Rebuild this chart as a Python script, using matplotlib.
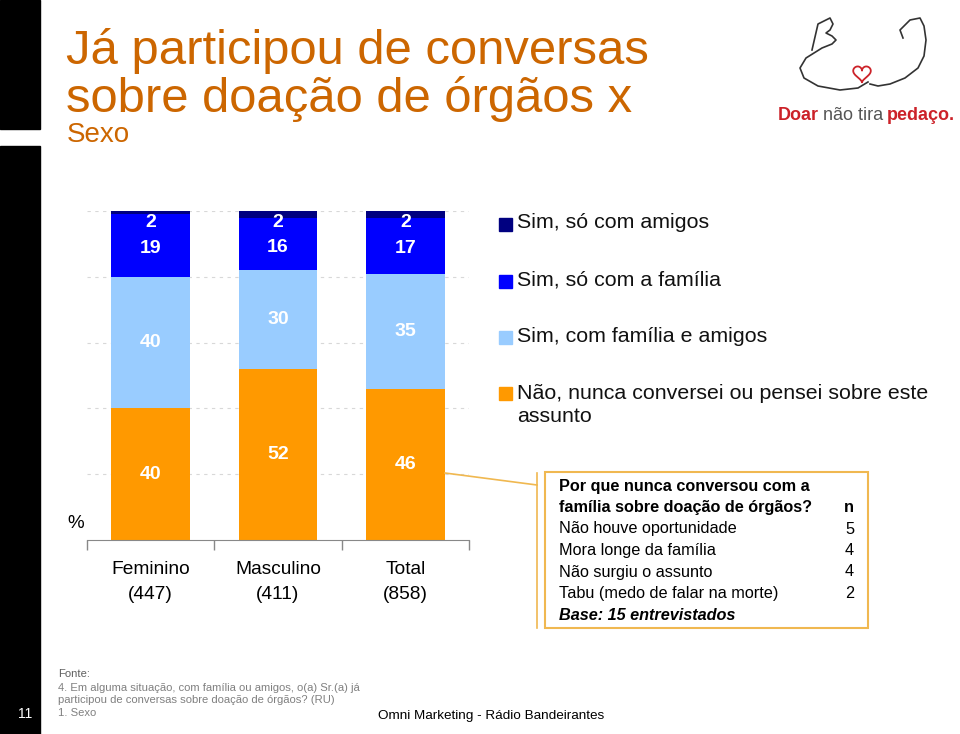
import numpy as np
import matplotlib.pyplot as plt
from matplotlib.patches import Rectangle
from matplotlib.lines import Line2D

plt.rcParams['font.family'] = ['Liberation Sans', 'DejaVu Sans']

# Data
groups = ['Feminino\n(447)', 'Masculino\n(411)', 'Total\n(858)']
series = ['Não, nunca conversei ou pensei sobre este\nassunto',
          'Sim, com família e amigos',
          'Sim, só com a família',
          'Sim, só com amigos']
nao = [40, 52, 46]
fam_amigos = [40, 30, 35]
so_familia = [19, 16, 17]
so_amigos = [2, 2, 2]
colors = ['#FF9900', '#99CCFF', '#0000FF', '#000080']

box_title = ['Por que nunca conversou com a', 'família sobre doação de órgãos?']
reasons = ['Não houve oportunidade', 'Mora longe da família',
           'Não surgiu o assunto', 'Tabu (medo de falar na morte)']
reason_n = [5, 4, 4, 2]

W, H = 960, 734
fig = plt.figure(figsize=(W / 100, H / 100), dpi=100)


def fx(px):
    return px / W


def fy(py):
    return 1 - py / H


title_col = '#CC6600'

# left black strips
fig.patches.append(Rectangle((0, fy(129)), fx(40), 129 / H, color='black',
                             transform=fig.transFigure))
fig.patches.append(Rectangle((0, 0), fx(40), fy(146), color='black',
                             transform=fig.transFigure))
fig.text(fx(25), fy(714), '11', color='white', fontsize=10, ha='center', va='center')

# title
fig.text(fx(66), fy(51), 'Já participou de conversas', color=title_col,
         fontsize=35.3, va='center')
fig.text(fx(66), fy(99), 'sobre doação de órgãos x', color=title_col,
         fontsize=35.3, va='center')
fig.text(fx(67), fy(135), 'Sexo', color=title_col, fontsize=20, va='center')

# chart
ax = fig.add_axes([fx(87), fy(540), fx(469) - fx(87), (540 - 211) / H])
x = np.arange(len(groups))
stack = [nao, fam_amigos, so_familia, so_amigos]
bottom = np.zeros(len(groups))
for vals, col, name in zip(stack, colors, series):
    vals = np.array(vals, dtype=float)
    ax.bar(x, vals, 0.62, bottom=bottom, color=col, label=name, zorder=2)
    for xi, b, v in zip(x, bottom, vals):
        yl = b + v / 2 if v > 5 else 96.5
        if 5 < v < 25:
            yl -= 1
        ax.text(xi, yl, f'{int(v)}', color='white', fontsize=14,
                fontweight='bold', ha='center', va='center', zorder=3)
    bottom += vals

ax.set_xlim(-0.5, 2.5)
ax.set_ylim(0, 100)
ax.set_yticks([20, 40, 60, 80, 100])
ax.yaxis.grid(True, linestyle=(0, (3, 4)), color='#D8D8D8', linewidth=0.8, zorder=0)
ax.tick_params(axis='y', left=False, labelleft=False)
ax.set_xticks(x)
ax.set_xticklabels(groups, fontsize=13.8, linespacing=1.6)
ax.tick_params(axis='x', length=0, pad=15)
ax.set_xticks([-0.5, 0.5, 1.5, 2.5], minor=True)
ax.tick_params(axis='x', which='minor', length=7, color='#888888', width=1)
for s in ['top', 'right', 'left']:
    ax.spines[s].set_visible(False)
ax.spines['bottom'].set_color('#888888')
fig.text(fx(76), fy(524), '%', fontsize=13.5, ha='center', va='center')

# legend
leg_y = [223, 280, 336, 392]
for i, (name, col) in enumerate(zip(series[::-1], colors[::-1])):
    fig.patches.append(Rectangle((fx(499), fy(leg_y[i] + 8)), fx(13), 13 / H,
                                 color=col, transform=fig.transFigure))
    if '\n' in name:
        fig.text(fx(517), fy(leg_y[i] - 8), name, fontsize=15.4, va='top',
                 linespacing=1.3, color='#111111')
    else:
        fig.text(fx(517), fy(leg_y[i]), name, fontsize=15.4, va='center',
                 color='#111111')

# callout box
box_col = '#F0B850'
fig.add_artist(Line2D([fx(445), fx(537)], [fy(473), fy(485)], color=box_col,
                      linewidth=1.2, transform=fig.transFigure))
fig.add_artist(Line2D([fx(537), fx(537)], [fy(473), fy(628)], color=box_col,
                      linewidth=1.2, transform=fig.transFigure))
fig.patches.append(Rectangle((fx(545), fy(628)), fx(868 - 545), (628 - 472) / H,
                             fill=False, edgecolor=box_col, linewidth=1.5,
                             transform=fig.transFigure))
fs_box = 11.7
ly = 486
for t in box_title:
    fig.text(fx(559), fy(ly), t, fontsize=fs_box, fontweight='bold', va='center')
    ly += 21.5
fig.text(fx(854), fy(ly - 21.5), 'n', fontsize=fs_box, fontweight='bold',
         ha='right', va='center')
for r, n in zip(reasons, reason_n):
    fig.text(fx(559), fy(ly), r, fontsize=fs_box, va='center')
    fig.text(fx(854), fy(ly), str(n), fontsize=fs_box, ha='right', va='center')
    ly += 21.5
fig.text(fx(559), fy(ly), 'Base: 15 entrevistados', fontsize=fs_box,
         fontweight='bold', fontstyle='italic', va='center')

# footer
grey = '#808080'
fig.text(fx(58), fy(674), 'Fonte:', fontsize=8.1, color='#606060', va='center')
fig.text(fx(58), fy(688), '4. Em alguma situação, com família ou amigos, o(a) Sr.(a) já',
         fontsize=8.1, color=grey, va='center')
fig.text(fx(58), fy(700), 'participou de conversas sobre doação de órgãos? (RU)',
         fontsize=8.1, color=grey, va='center')
fig.text(fx(58), fy(713), '1. Sexo', fontsize=8.1, color=grey, va='center')
fig.text(fx(378), fy(716), 'Omni Marketing - Rádio Bandeirantes', fontsize=9.7,
         va='center')

# logo (text + heart + outlines)
red = '#CC2229'
t1 = fig.text(fx(778), fy(115), 'Doar', fontsize=13, fontweight='bold', color=red,
              va='center')
fig.canvas.draw()
r = fig.canvas.get_renderer()
bb = t1.get_window_extent(r)
t2 = fig.text(bb.x1 / W + fx(4), fy(115), 'não tira', fontsize=13, color='#555555',
              va='center')
bb2 = t2.get_window_extent(r)
fig.text(bb2.x1 / W + fx(4), fy(115), 'pedaço.', fontsize=13, fontweight='bold',
         color=red, va='center')
th = np.linspace(0, 2 * np.pi, 200)
hx = 16 * np.sin(th) ** 3
hy = 13 * np.cos(th) - 5 * np.cos(2 * th) - 2 * np.cos(3 * th) - np.cos(4 * th)
fig.add_artist(Line2D(fx(862 + hx * 0.55), fy(73 - hy * 0.55), color=red,
                      linewidth=1.3, transform=fig.transFigure))
left_fig_x = np.array([812, 818, 830, 833, 830, 826, 832, 836, 832, 822, 806, 800,
                       804, 818, 840, 858, 868])
left_fig_y = np.array([50, 24, 18, 24, 30, 33, 36, 40, 44, 48, 58, 68,
                       78, 86, 90, 88, 82])
fig.add_artist(Line2D(fx(left_fig_x), fy(left_fig_y), color='#333333',
                      linewidth=1.2, transform=fig.transFigure))
right_fig_x = np.array([903, 900, 910, 920, 924, 926, 924, 918, 905, 890, 878, 870])
right_fig_y = np.array([38, 30, 20, 18, 26, 40, 56, 68, 78, 84, 86, 84])
fig.add_artist(Line2D(fx(right_fig_x), fy(right_fig_y), color='#333333',
                      linewidth=1.2, transform=fig.transFigure))

fig.savefig('out.png', dpi=100)
